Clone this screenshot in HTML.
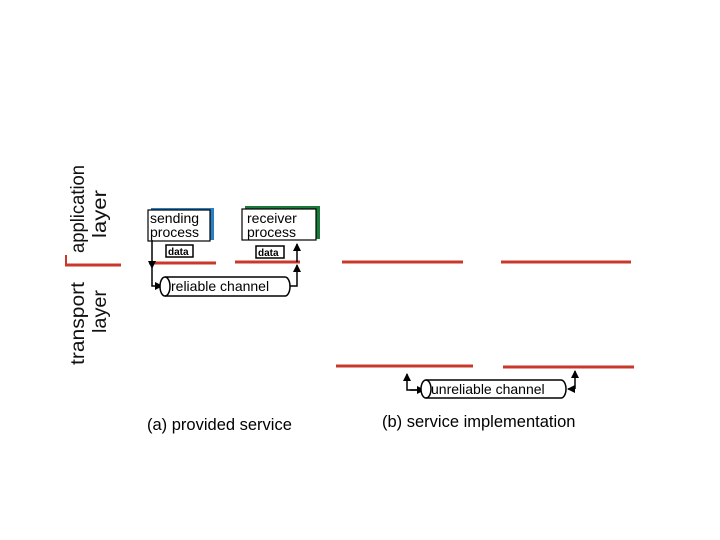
<!DOCTYPE html>
<html><head><meta charset="utf-8"><style>
html,body{margin:0;padding:0;background:#fff;}
svg{display:block;font-family:"Liberation Sans",sans-serif;}
</style></head><body>
<svg width="720" height="540" viewBox="0 0 720 540" xmlns="http://www.w3.org/2000/svg">
<defs>
<marker id="ah" markerWidth="8" markerHeight="8" refX="7" refY="4" orient="auto" markerUnits="userSpaceOnUse">
<path d="M0,0 L8,4 L0,8 z" fill="#000"/></marker>
</defs>
<!-- layer labels -->
<g fill="#111" font-size="19">
<text transform="translate(84,253) rotate(-90)" textLength="88" lengthAdjust="spacingAndGlyphs">application</text>
<text transform="translate(106,238) rotate(-90)" textLength="48" lengthAdjust="spacingAndGlyphs">layer</text>
<text transform="translate(84,365) rotate(-90)" textLength="83" lengthAdjust="spacingAndGlyphs">transport</text>
<text transform="translate(106,333) rotate(-90)" textLength="43" lengthAdjust="spacingAndGlyphs">layer</text>
</g>
<g stroke="#c8392b" stroke-width="3">
<line x1="65" y1="265" x2="121" y2="265"/>
<line x1="66" y1="255" x2="66" y2="265" stroke-width="2"/>
<line x1="149" y1="263" x2="216" y2="263"/>
<line x1="235" y1="262" x2="300" y2="262"/>
<line x1="342" y1="262" x2="463" y2="262"/>
<line x1="501" y1="262" x2="631" y2="262"/>
<line x1="336" y1="366" x2="473" y2="366"/>
<line x1="503" y1="367" x2="634" y2="367"/>
</g>
<!-- process boxes -->
<rect x="151" y="208" width="63" height="32" fill="#2a7fc0"/>
<rect x="148" y="210" width="62" height="31" fill="#fff" stroke="#000" stroke-width="1.2"/>
<text x="150" y="223" font-size="14">sending</text>
<text x="150" y="237" font-size="14">process</text>
<rect x="245" y="206" width="75" height="33" fill="#1a7a3a"/>
<rect x="242" y="209" width="74" height="31" fill="#fff" stroke="#000" stroke-width="1.2"/>
<text x="247" y="223" font-size="14">receiver</text>
<text x="247" y="237" font-size="14">process</text>
<rect x="166" y="245" width="27" height="12" fill="#fff" stroke="#000" stroke-width="1.5"/>
<text x="168" y="255" font-size="10" font-weight="bold">data</text>
<rect x="256" y="246" width="28" height="12" fill="#fff" stroke="#000" stroke-width="1.5"/>
<text x="258" y="256" font-size="10" font-weight="bold">data</text>
<!-- reliable channel -->
<g stroke="#000" stroke-width="1.5" fill="none">
<line x1="152" y1="240" x2="152" y2="268" marker-end="url(#ah)"/>
<polyline points="152,268 152,286 162,286" marker-end="url(#ah)"/>
<path d="M165,277 L285,277 A5,9.5 0 0 1 285,296 L165,296 A5,9.5 0 0 1 165,277 Z" fill="#fff"/>
<path d="M165,277 A5,9.5 0 0 1 165,296"/>
<polyline points="290,286 297,286 297,265" marker-end="url(#ah)"/>
<line x1="297" y1="262" x2="297" y2="244" marker-end="url(#ah)"/>
</g>
<text x="171" y="291" font-size="14">reliable channel</text>
<!-- unreliable channel -->
<g stroke="#000" stroke-width="1.5" fill="none">
<polyline points="418,390 407,390 407,374" marker-end="url(#ah)"/>
<line x1="410" y1="390" x2="424" y2="390" marker-end="url(#ah)"/>
<path d="M426,380 L561,380 A5,9 0 0 1 561,398 L426,398 A5,9 0 0 1 426,380 Z" fill="#fff"/>
<path d="M426,380 A5,9 0 0 1 426,398"/>
<polyline points="575,389 575,371" marker-end="url(#ah)"/>
<line x1="575" y1="389" x2="568" y2="389" marker-end="url(#ah)"/>
</g>
<text x="431" y="394" font-size="14">unreliable channel</text>
<text x="147" y="430" font-size="16.5">(a)  provided service</text>
<text x="382" y="427" font-size="16.5">(b) service implementation</text>
</svg>
</body></html>
